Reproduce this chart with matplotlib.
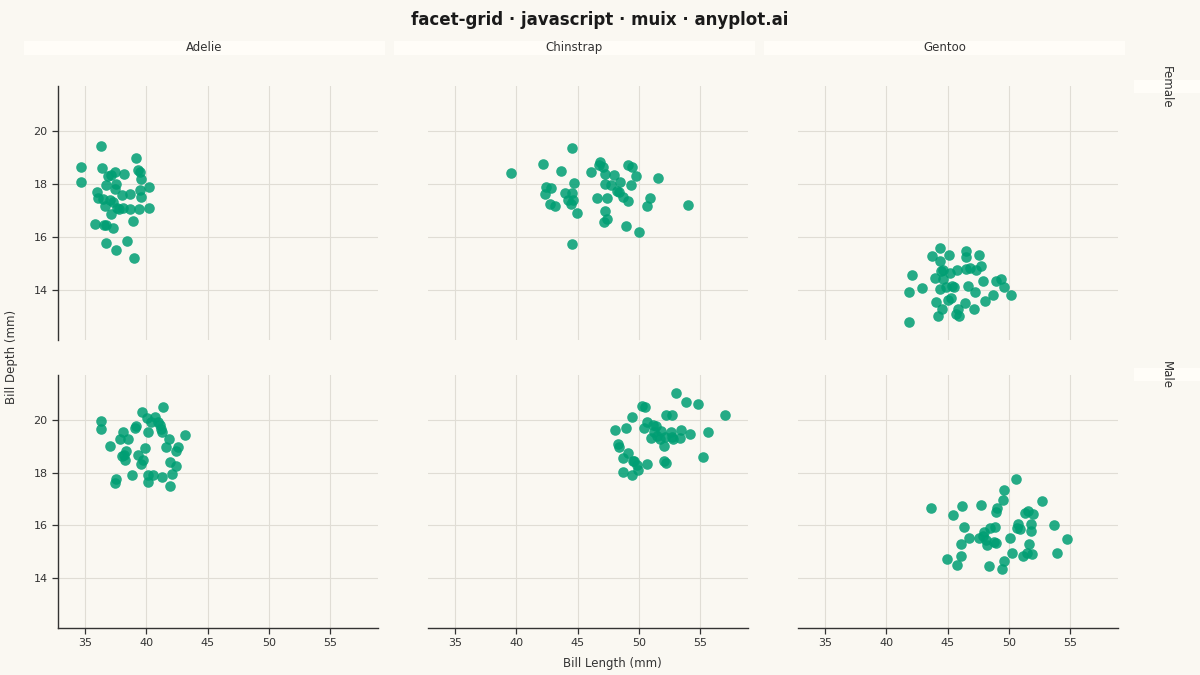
import matplotlib.pyplot as plt
from matplotlib.patches import Rectangle

# bill length / depth
adelie_f_len = [36.28, 39.16, 34.65, 36.41, 39.30, 39.49, 37.45, 37.12, 36.90, 38.18, 39.54,
                34.65, 36.71, 37.53, 37.45, 40.25, 35.98, 37.99, 38.70, 39.49, 39.57, 36.09,
                36.50, 37.04, 37.31, 36.63, 37.59, 37.78, 38.07, 38.67, 39.41, 40.25, 37.12,
                38.89, 35.82, 36.58, 36.69, 37.31, 38.46, 36.74, 37.53, 39.03]
adelie_f_dep = [19.42, 18.96, 18.62, 18.60, 18.54, 18.45, 18.45, 18.33, 18.29, 18.39, 18.20,
                18.06, 17.97, 18.01, 17.80, 17.89, 17.70, 17.57, 17.61, 17.77, 17.52, 17.48,
                17.42, 17.40, 17.30, 17.17, 17.08, 17.04, 17.08, 17.07, 17.06, 17.08, 16.88,
                16.59, 16.48, 16.44, 16.44, 16.33, 15.84, 15.75, 15.52, 15.21]

chinstrap_f_len = [44.54, 42.18, 39.54, 43.68, 46.10, 46.85, 46.77, 47.04, 47.23, 47.98, 48.47,
                   49.14, 49.46, 49.73, 51.56, 49.38, 47.26, 47.74, 48.20, 48.39, 48.71, 49.11,
                   50.94, 50.70, 53.98, 44.68, 42.42, 42.82, 42.34, 43.98, 44.52, 44.25, 44.62,
                   44.44, 42.77, 43.17, 44.94, 46.58, 47.42, 47.26, 47.42, 47.18, 48.92, 50.03,
                   44.52]
chinstrap_f_dep = [19.36, 18.77, 18.43, 18.47, 18.44, 18.83, 18.73, 18.65, 18.39, 18.33, 18.09,
                   18.72, 18.62, 18.31, 18.24, 17.96, 17.99, 17.94, 17.74, 17.70, 17.50, 17.36,
                   17.46, 17.17, 17.21, 18.03, 17.90, 17.86, 17.62, 17.65, 17.65, 17.38, 17.40,
                   17.23, 17.23, 17.18, 16.89, 17.45, 17.48, 16.96, 16.69, 16.57, 16.39, 16.20,
                   15.74]

gentoo_f_len = [44.39, 43.72, 45.09, 44.39, 46.50, 46.47, 47.58, 42.13, 44.61, 44.47, 45.23,
                45.77, 46.50, 46.82, 47.31, 47.74, 43.99, 44.66, 42.91, 41.88, 44.39, 44.88,
                45.36, 45.50, 46.63, 47.85, 48.93, 49.39, 49.60, 50.14, 47.23, 48.71, 48.06,
                44.04, 45.07, 45.28, 46.42, 44.58, 45.82, 44.23, 45.69, 45.90, 47.12, 41.88]
gentoo_f_dep = [15.56, 15.27, 15.31, 15.08, 15.47, 15.25, 15.33, 14.54, 14.74, 14.70, 14.64,
                14.74, 14.77, 14.81, 14.73, 14.88, 14.43, 14.39, 14.05, 13.90, 14.03, 14.09,
                14.15, 14.09, 14.14, 14.33, 14.34, 14.40, 14.09, 13.79, 13.90, 13.80, 13.57,
                13.53, 13.60, 13.70, 13.51, 13.26, 13.28, 13.02, 13.08, 12.99, 13.27, 12.77]

adelie_m_len = [41.34, 39.68, 40.06, 40.71, 40.36, 40.93, 41.12, 41.20, 41.31, 36.28, 36.28,
                39.16, 39.08, 38.13, 37.86, 38.48, 40.17, 41.88, 43.16, 41.61, 42.62, 42.40,
                37.04, 38.32, 38.21, 38.05, 38.27, 39.35, 39.90, 39.73, 39.57, 41.94, 42.40,
                38.86, 40.17, 40.58, 41.26, 42.13, 37.53, 37.45, 40.17, 41.94]
adelie_m_dep = [20.50, 20.30, 20.08, 20.11, 19.92, 19.92, 19.80, 19.65, 19.55, 19.96, 19.65,
                19.77, 19.69, 19.55, 19.27, 19.27, 19.55, 19.27, 19.43, 18.96, 18.96, 18.83,
                19.02, 18.83, 18.67, 18.64, 18.48, 18.67, 18.94, 18.49, 18.33, 18.39, 18.26,
                17.89, 17.92, 17.91, 17.82, 17.95, 17.76, 17.60, 17.64, 17.48]

chinstrap_m_len = [53.01, 53.82, 54.84, 57.04, 50.27, 50.48, 49.41, 52.23, 52.72, 48.06, 48.92,
                   50.38, 50.70, 51.16, 51.42, 51.83, 51.24, 51.02, 51.48, 51.69, 52.10, 52.02,
                   52.63, 52.72, 52.82, 53.44, 53.39, 54.19, 55.64, 55.19, 48.28, 48.36, 49.14,
                   48.68, 49.49, 49.62, 49.81, 49.89, 50.70, 52.02, 52.23, 48.74, 49.41]
chinstrap_m_dep = [21.01, 20.67, 20.59, 20.18, 20.52, 20.48, 20.09, 20.19, 20.19, 19.60, 19.70,
                   19.70, 19.90, 19.80, 19.77, 19.57, 19.52, 19.31, 19.40, 19.27, 19.33, 19.02,
                   19.52, 19.36, 19.27, 19.62, 19.31, 19.46, 19.55, 18.59, 19.08, 18.96, 18.73,
                   18.54, 18.42, 18.45, 18.30, 18.10, 18.33, 18.45, 18.36, 18.01, 17.92]

gentoo_m_len = [50.60, 49.57, 49.49, 52.71, 43.66, 46.15, 47.71, 45.47, 49.06, 48.93, 51.30,
                51.57, 51.95, 46.34, 48.44, 48.87, 47.98, 50.63, 50.87, 50.76, 51.84, 51.84,
                53.70, 54.73, 46.77, 47.58, 47.85, 48.12, 48.20, 48.79, 48.95, 50.06, 51.63,
                46.07, 46.07, 44.93, 45.74, 48.39, 49.60, 49.41, 50.22, 51.14, 51.44, 51.89,
                53.92]
gentoo_m_dep = [17.76, 17.32, 16.96, 16.92, 16.67, 16.72, 16.78, 16.38, 16.67, 16.49, 16.47,
                16.54, 16.43, 15.92, 15.91, 15.95, 15.75, 15.90, 15.86, 16.06, 16.03, 15.79,
                15.99, 15.47, 15.52, 15.52, 15.60, 15.43, 15.24, 15.35, 15.32, 15.52, 15.28,
                15.30, 14.83, 14.73, 14.50, 14.45, 14.63, 14.34, 14.96, 14.83, 14.93, 14.89,
                14.94]

species = ["Adelie", "Chinstrap", "Gentoo"]
sexes = ["Female", "Male"]
x_ticks = [35, 40, 45, 50, 55]
y_ticks = [14, 16, 18, 20]

panels = [
    [(adelie_f_len, adelie_f_dep), (chinstrap_f_len, chinstrap_f_dep), (gentoo_f_len, gentoo_f_dep)],
    [(adelie_m_len, adelie_m_dep), (chinstrap_m_len, chinstrap_m_dep), (gentoo_m_len, gentoo_m_dep)],
]

BG = "#faf8f2"
STRIP = "#fffdf8"
GRID = "#e0ddd5"
INK = "#333333"
GREEN = "#009e73"

W, H = 1200, 675
fig = plt.figure(figsize=(12, 6.75), dpi=100, facecolor=BG)

def box(x0, y0, x1, y1):
    # pixel box (top-left origin) -> figure rect
    return [x0 / W, 1 - y1 / H, (x1 - x0) / W, (y1 - y0) / H]

col_px = [(58, 378), (428, 748), (798, 1118)]
row_px = [(86, 340), (375, 628)]

for r in range(2):
    for c in range(3):
        ax = fig.add_axes(box(col_px[c][0], row_px[r][0], col_px[c][1], row_px[r][1]))
        ax.set_facecolor(BG)
        xs, ys = panels[r][c]
        ax.scatter(xs, ys, s=58, color=GREEN, alpha=0.85, linewidths=0, zorder=3)
        ax.set_xlim(32.8, 58.9)
        ax.set_ylim(12.1, 21.7)
        ax.set_xticks(x_ticks)
        ax.set_yticks(y_ticks)
        ax.grid(True, color=GRID, linewidth=0.8, zorder=0)
        ax.set_axisbelow(True)
        for side in ["top", "right"]:
            ax.spines[side].set_visible(False)
        ax.spines["left"].set_visible(c == 0)
        ax.spines["bottom"].set_visible(r == 1)
        for side in ["left", "bottom"]:
            ax.spines[side].set_color(INK)
            ax.spines[side].set_linewidth(1.0)
        ax.tick_params(axis="x", bottom=(r == 1), labelbottom=(r == 1),
                       labelsize=8, colors=INK, length=4, width=0.9)
        ax.tick_params(axis="y", left=(c == 0), labelleft=(c == 0),
                       labelsize=8, colors=INK, length=4, width=0.9)

# column strips
strip_px = [(24, 385), (394, 755), (764, 1125)]
for (x0, x1), name in zip(strip_px, species):
    fig.patches.append(Rectangle((x0 / W, 1 - 55 / H), (x1 - x0) / W, 14 / H,
                                 transform=fig.transFigure, facecolor=STRIP,
                                 edgecolor="none"))
    fig.text((x0 + x1) / 2 / W, 1 - 47.5 / H, name, ha="center", va="center",
             fontsize=8.5, color=INK)

# row strips
row_strip_px = [(80, 93), (368, 381)]
label_y = [87, 375]
for (y0, y1), yl, name in zip(row_strip_px, label_y, sexes):
    fig.patches.append(Rectangle((1134 / W, 1 - y1 / H), 66 / W, (y1 - y0) / H,
                                 transform=fig.transFigure, facecolor=STRIP,
                                 edgecolor="none"))
    fig.text(1166 / W, 1 - yl / H, name, ha="center", va="center", rotation=270,
             fontsize=8.5, color=INK)

fig.text(600 / W, 1 - 20 / H, "facet-grid · javascript · muix · anyplot.ai",
         ha="center", va="center", fontsize=12, fontweight="bold", color="#1a1a1a")
fig.text(612 / W, 1 - 663 / H, "Bill Length (mm)", ha="center", va="center",
         fontsize=8.5, color=INK)
fig.text(12 / W, 1 - 357 / H, "Bill Depth (mm)", ha="center", va="center",
         rotation=90, fontsize=8.5, color=INK)

fig.savefig("out.png", dpi=100, facecolor=BG)
